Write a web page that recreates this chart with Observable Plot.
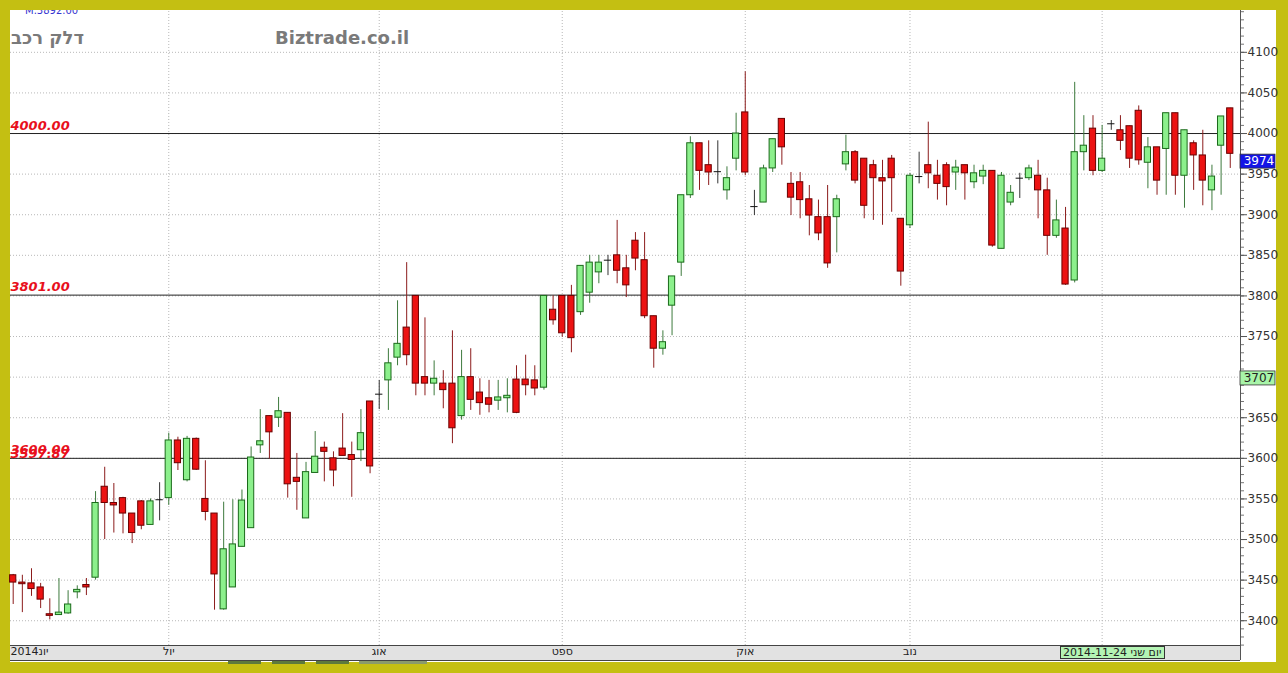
<!DOCTYPE html>
<html><head><meta charset="utf-8">
<script src="https://cdn.jsdelivr.net/npm/d3@7"></script>
<script src="https://cdn.jsdelivr.net/npm/@observablehq/plot@0.6"></script>
<style>
html,body{margin:0;padding:0;}
body{width:1288px;height:673px;background:#c4bf12;position:relative;overflow:hidden;font-family:"DejaVu Sans",sans-serif;}
#panel{position:absolute;left:10px;top:10px;width:1266px;height:652px;background:#fff;overflow:hidden;}
#band{position:absolute;left:10px;top:645px;width:1230px;height:14px;background:#e2e2e2;border-top:1px solid #444;border-bottom:1px solid #444;}
#chart{position:absolute;left:0;top:0;}
.ttl{position:absolute;top:27px;font-weight:bold;font-size:18px;color:#7a7a7a;white-space:nowrap;}
#mval{position:absolute;left:15px;top:-5px;font-size:10px;color:#3434d0;}
#datebox{position:absolute;left:1060px;top:646px;width:105px;height:13px;background:#b4f4b4;border:1px solid #333;box-sizing:border-box;font:11px "DejaVu Sans",sans-serif;line-height:12px;color:#222;overflow:hidden;white-space:nowrap;padding-left:2px;}
.sb{position:absolute;top:661px;height:3px;background:#5d7a3c;}
</style></head><body>
<div id="panel"><div id="mval">M.3892.00</div></div>
<div id="band"></div>
<div class="sb" style="left:228px;width:33px"></div>
<div class="sb" style="left:272px;width:33px"></div>
<div class="sb" style="left:316px;width:33px"></div>
<div class="sb" style="left:359px;width:68px;background:#8a9a6a"></div>
<div id="chart"></div>
<div class="ttl" style="left:11px" dir="rtl">דלק רכב</div>
<div class="ttl" style="left:275px">Biztrade.co.il</div>
<div id="datebox">2014-11-24 יום שני</div>
<script>
// ---- data ----
const candleOpen = [3456,3447,3446,3441,3408,3407,3409,3435,3444,3453,3565,3545,3551,3532,3547,3518,3549,3551,3622,3573,3624,3550,3532,3414,3441,3491,3514,3616,3652,3650,3656,3576,3526,3582,3613,3600,3612,3604,3610,3670,3679,3696,3724,
3761,3800,3700,3692,3692,3692,3652,3700,3681,3674,3671,3674,3697,3697,3696,3687,3783,3800,3800,3780,3804,3829,3844,3850,3834,3868,3844,3775,3735,3788,3841,3924,3988,3961,3953,3930,3969,4026,3910,3915,3957,4018,3938,3940,3919,3897,3897,3897,3962,3977,3969,3961,3945,3969,3895,3887,3947,3961,3948,3961,3952,3961,3940,3947,3954,3858,3915,3945,3945,3948,3930,3874,3883,3819,3977,4006,3954,4012,4004,4009,4028,3964,3983,3981,4025,3948,3988,3973,3930,3985,4031];
const candleHigh = [3457,3456,3464,3446,3427,3452,3437,3443,3452,3559,3589,3569,3552,3532,3548,3550,3570,3631,3626,3627,3625,3597,3532,3546,3549,3561,3614,3660,3652,3675,3656,3606,3595,3633,3620,3608,3655,3620,3660,3670,3696,3735,3794,
3841,3800,3773,3720,3708,3757,3733,3735,3698,3696,3696,3698,3714,3727,3714,3800,3800,3800,3813,3837,3850,3850,3850,3893,3850,3878,3878,3775,3757,3824,3924,3996,3988,3991,3991,3959,4025,4076,3930,3961,3993,4018,3952,3952,3936,3918,3936,3924,3998,3979,3969,3967,3967,3973,3895,3951,3977,4014,3967,3964,3967,3961,3961,3961,3954,3952,3936,3951,3961,3967,3945,3918,3909,4063,4022,4022,4010,4016,4022,4009,4034,3995,3983,4025,4025,4004,3991,4004,3961,4021,4031];
const candleLow = [3420,3410,3430,3415,3401,3407,3408,3427,3431,3450,3500,3508,3507,3495,3512,3518,3523,3542,3585,3571,3585,3523,3413,3413,3441,3491,3514,3606,3599,3638,3551,3536,3526,3582,3571,3565,3603,3552,3596,3581,3660,3659,3714,
3714,3677,3677,3677,3661,3618,3647,3659,3653,3656,3659,3656,3655,3677,3677,3684,3764,3749,3730,3776,3791,3815,3825,3815,3798,3831,3772,3711,3727,3751,3824,3920,3930,3936,3938,3918,3954,3948,3899,3915,3952,3961,3899,3895,3874,3868,3834,3853,3954,3938,3895,3893,3887,3903,3812,3883,3938,3932,3918,3911,3930,3918,3932,3937,3860,3858,3911,3920,3942,3895,3850,3871,3813,3816,3954,3948,3952,4004,3979,3957,3961,3932,3924,3924,3924,3908,3930,3911,3905,3924,3957];
const candleClose = [3447,3445,3439,3426,3406,3410,3420,3438,3441,3545,3545,3542,3532,3508,3517,3547,3549,3622,3594,3624,3586,3534,3457,3488,3494,3548,3601,3621,3632,3658,3568,3571,3583,3602,3608,3585,3603,3598,3631,3590,3679,3717,3741,
3727,3692,3692,3698,3684,3637,3700,3672,3668,3666,3675,3677,3656,3690,3686,3800,3770,3754,3748,3837,3841,3841,3844,3831,3813,3846,3775,3735,3743,3824,3924,3988,3954,3952,3953,3945,4000,3952,3910,3957,3993,3983,3921,3918,3899,3877,3840,3919,3977,3942,3911,3945,3941,3945,3830,3948,3947,3951,3938,3934,3958,3951,3951,3954,3862,3948,3927,3945,3957,3930,3874,3893,3814,3977,3985,3954,3969,4012,3991,3969,3967,3983,3942,4025,3948,4004,3973,3942,3947,4021,3975];

const priceTicks = [3400,3450,3500,3550,3600,3650,3700,3750,3800,3850,3900,3950,4000,4050,4100];
const minorTicks = d3.range(3370, 4151, 10);
const monthIndex = [17, 40, 60, 80, 98];
const monthLabels = ["יול", "אוג", "ספט", "אוק", "נוב"];
const firstLabel = "2014יונ";
const gridIndex = [17, 40, 60, 80, 98, 119];
const levelValues = [4000, 3801, 3600];
const levelTexts = ["4000.00", "3801.00", "3600.00"];
const closeLevelValue = [3597.87];
const closeLevelText = ["3597.87"];
const markerValues = [3974, 3707];
const markerTexts = ["3974", "3707"];
const markerFill = ["#1414e6", "#a8f4a8"];
const markerInk = ["#ffffff", "#222222"];

// ---- chart ----
const N = candleOpen.length;
const idx = d3.range(N);
const xMin = -0.295, xMax = 134.12;
const isDoji = i => Math.abs(candleClose[i] - candleOpen[i]) < 1.5;
const isUp = i => candleClose[i] >= candleOpen[i];
const bodies = idx.filter(i => !isDoji(i));
const dojis = idx.filter(isDoji);
const pxPerPrice = 1.2315; // for marker box heights (14px)
const boxH = 14 * pxPerPrice;
const boxW = 35 / 9.151;
// the 3707 marker box sits over the 3700 label, as in the reference
const hiddenLabel = 3700;
const levelStyle = {textAnchor: "start", lineAnchor: "bottom", fill: "#e8101c", fontWeight: "bold", fontStyle: "italic", fontSize: 13};

const chart = Plot.plot({
  width: 1288, height: 673,
  marginLeft: 10, marginRight: 48, marginTop: 10, marginBottom: 28,
  style: {background: "transparent", fontFamily: "DejaVu Sans, sans-serif", overflow: "visible"},
  x: {domain: [xMin, xMax], axis: null},
  y: {domain: [3369.5, 4151.5], axis: null},
  color: {type: "identity"},
  marks: [
    Plot.ruleY(priceTicks, {x1: xMin, x2: xMax, stroke: "#b8b8b8", strokeDasharray: "1,2"}),
    Plot.ruleX(gridIndex, {y1: 3369.5, y2: 4151.5, stroke: "#b8b8b8", strokeDasharray: "1,2"}),
    Plot.ruleY(levelValues, {x1: xMin, x2: xMax, stroke: "#222", strokeWidth: 1}),
    Plot.text(levelValues, {x: xMin, y: d => d, text: (d, i) => levelTexts[i], dy: -4, ...levelStyle}),
    Plot.text(closeLevelValue, {x: xMin, y: d => d, text: (d, i) => closeLevelText[i], dy: -2, ...levelStyle}),
    Plot.ruleX(idx, {x: i => i, y1: i => candleLow[i], y2: i => candleHigh[i], stroke: i => isDoji(i) ? "#333" : (isUp(i) ? "#3d7a3d" : "#8c1c1c")}),
    Plot.rect(bodies, {x1: i => i - 0.34, x2: i => i + 0.34, y1: i => Math.min(candleOpen[i], candleClose[i]), y2: i => Math.max(candleOpen[i], candleClose[i]), fill: i => isUp(i) ? "#8cf08c" : "#ec1212", stroke: i => isUp(i) ? "#1a6a1a" : "#6a0000", strokeWidth: 1}),
    Plot.ruleY(dojis, {x1: i => i - 0.4, x2: i => i + 0.4, y: i => candleOpen[i], stroke: "#111"}),
    Plot.ruleX([xMax], {y1: 3351, y2: 4151.5, stroke: "#555"}),
    Plot.axisY(minorTicks, {anchor: "right", tickSize: 3, tickFormat: () => "", stroke: "#777", label: null}),
    Plot.axisY(priceTicks, {anchor: "right", tickSize: 6, tickPadding: 1, fontSize: 12, stroke: "#555", fill: "#333", label: null, tickFormat: d => d === hiddenLabel ? "" : String(d)}),
    Plot.rect(markerValues, {x1: xMax, x2: xMax + boxW, y1: d => d - boxH, y2: d => d, fill: (d, i) => markerFill[i], stroke: "#333", strokeWidth: 0.8}),
    Plot.text(markerValues, {x: xMax + 0.35, y: d => d - boxH / 2, text: (d, i) => markerTexts[i], textAnchor: "start", fill: (d, i) => markerInk[i], fontSize: 12}),
    Plot.text([0], {x: xMin, y: 3369.5, text: [firstLabel], textAnchor: "start", lineAnchor: "top", dy: 2, fontSize: 11, fill: "#222"}),
    Plot.text(monthIndex, {x: d => d, y: 3369.5, text: (d, i) => monthLabels[i], textAnchor: "middle", lineAnchor: "top", dy: 2, fontSize: 11, fill: "#222"})
  ]
});
document.getElementById("chart").appendChild(chart);
</script>
</body></html>
